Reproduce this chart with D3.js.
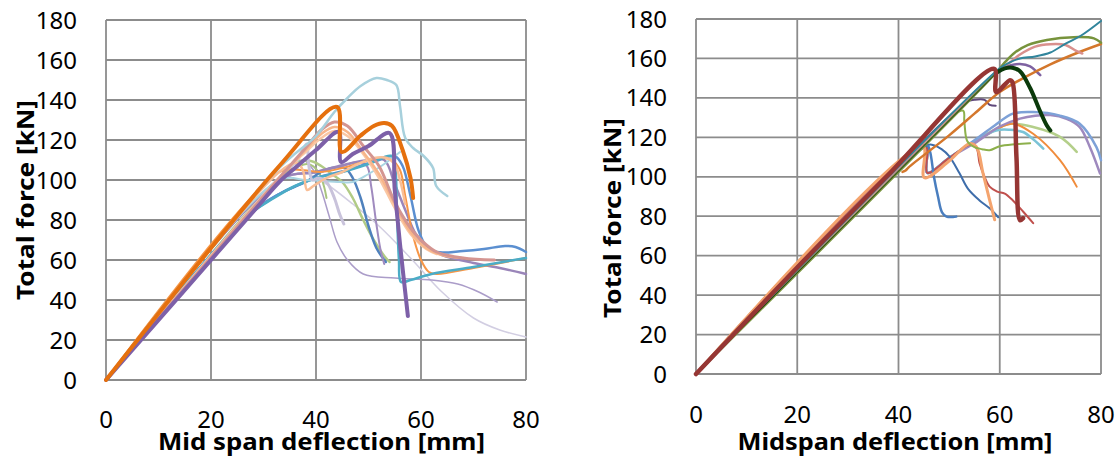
<!DOCTYPE html>
<html>
<head>
<meta charset="utf-8">
<script src="https://cdn.jsdelivr.net/npm/d3@7"></script>
<style>
  html, body { margin: 0; padding: 0; background: #fff; }
  svg { display: block; }
</style>
</head>
<body>
<svg id="chart" width="1120" height="459"></svg>
<script>
// ---------- axis ticks ----------
const xTicks = [0, 20, 40, 60, 80];
const yTicks = [0, 20, 40, 60, 80, 100, 120, 140, 160, 180];

// ---------- left panel: load vs. mid span deflection [mm, kN] ----------
const leftLightLavender = [[0,0],[33,101],[35.5,106],[38,104],[42,98],[47,88],[52,77],[58,61],[64,44],[70,31],[75,25],[80,21.5]];
const leftLilacThin = [[0,0],[33,101],[36,108],[37.5,110],[39.5,105],[41,95],[42.5,82],[44,69],[46,60],[49,53],[55,51],[62,50],[67,48],[71,44],[74.5,39]];
const leftLilacGrey = [[0,0],[34,104],[36.5,110],[38.2,118],[38.6,108],[39.3,100],[40.5,101],[42,99],[43.5,91],[44.5,83],[45.3,78]];
const leftGreenShort = [[0,0],[33,101],[36,106],[38.5,108],[40.5,104],[41.5,97],[42,91]];
const leftGreen = [[0,0],[27,82],[31,93],[34,104],[36,108.5],[39,109.5],[41,107],[43,103],[45,99],[47,91],[49,80],[51,70],[53,62],[54,59]];
const leftBlueDark = [[0,0],[27,82],[33,93],[38,99],[41,104],[43,106],[45.5,106],[47,101],[48.5,91],[50,77],[51.5,66],[53.3,59]];
const leftBlue = [[0,0],[27,82],[33,93],[40,101],[46,105],[52,110],[55,112],[56.5,107],[58,92],[59.5,75],[61,67],[63,64],[68,64.5],[72,65.5],[76,67],[78,66.5],[80,64]];
const leftAqua = [[0,0],[27,82],[32,91],[36,97],[40,101],[45,104],[50,108],[54.3,112],[55,108],[55.4,85],[55.8,60],[56.2,49],[58,50],[62,53],[70,56.5],[80,61]];
const leftOrange = [[0,0],[33,104],[37,105],[41,104],[45,106],[49,109],[52,111],[54.5,110],[56,105],[57,92],[58.5,72],[60,60],[61.5,54],[63,53],[70,56],[80,61]];
const leftPurpleMed = [[0,0],[33,100],[40,104],[46,108],[50,110],[53,110],[55,98],[57,85],[59,73],[61,67],[64,62.5],[70,58.5],[75,56],[80,53]];
const leftPurpleShort = [[0,0],[33,100],[40,104],[45,107],[48,109],[49.7,107],[50.5,97],[51.5,78],[52.3,65],[53,58]];
const leftLightBlueLow = [[0,0],[33,100],[38,100],[41,99.5],[44.5,99],[47,99],[50,103],[53,108],[56,114]];
const leftPeachV = [[0,0],[33,104],[36.5,108.5],[37.6,104],[38.3,95],[39.5,97],[42,101],[45,104],[48,108],[51,111],[53.5,111],[55,108],[56,100],[57,88]];
const leftPeachLight = [[0,0],[34,104],[38,114],[41,121],[43.5,124.5],[46,122],[49,113],[52,101],[55,86],[58,73],[61,65.5],[63,63]];
const leftPeach = [[0,0],[34,104],[38,115],[41,123],[43.5,126.5],[46,124],[49,114],[52,103],[55,88],[58,74],[61,66],[64,62.5],[68,61]];
const leftRosy = [[0,0],[34,104],[38,116],[41,125],[43.5,129],[46,127],[49,117],[52,107],[55,89],[58,76],[60,70],[63,64],[68,61],[74,60]];
const leftLightBlueTop = [[0,0],[33,106],[40,122],[43.5,134],[46,141],[48.5,147],[51.5,151],[53.5,150],[55.3,147.5],[56,137],[57,121],[58.5,116],[60.5,112],[62.3,106],[62.9,97],[65,92]];
const leftPurpleThick = [[0,0],[28,84],[33,99],[36,106],[40,115],[44.3,124],[44.8,109],[47,113],[50,117],[54,123.5],[55,95],[56,68],[57.5,32]];
const leftOrangeThick = [[0,0],[33,107],[44,136.5],[44.9,114],[48.4,122],[51,127],[53,128.5],[54.5,127],[56.5,115],[58,101],[58.5,91]];

// ---------- right panel: load vs. midspan deflection [mm, kN] ----------
const vStart = [[0,0],[45.3,116],[45.7,102],[50,109.5]];
const rightLightGreen = vStart.concat([[55,118],[58,122.5],[62,126.9],[66.6,125.2],[71.9,120.2],[75.2,112.6]]);
const rightOrange = vStart.concat([[55,118],[58,122],[60.5,125.5],[62.6,126.9],[66.6,121.8],[71.9,108.4],[75.2,95]]);
const rightAqua = vStart.concat([[55,118],[59.3,123.5],[62,123.8],[64.6,122.7],[66.6,119],[68.6,114.3]]);
const rightBlueLight = vStart.concat([[55,118.5],[59,126],[62.6,132],[66.6,132.8],[71.9,131],[75.8,126.9],[79.1,115],[80,108.4]]);
const rightLilac = vStart.concat([[55,117],[60,125.5],[64,129.5],[67,131],[70,131.3],[73.2,129.4],[75.8,125.2],[77.8,115.1],[79.8,101.7]]);
const rightRed = vStart.concat([[54.5,116.5],[55.5,114],[56,107],[57,100],[58,95],[59.5,92.5],[61,91.5],[62.6,88],[64.6,82.4],[66.6,76.5]]);
const rightBlue = [[0,0],[45.7,116],[47,116],[48.5,114],[50,110.5],[52,102],[53.7,94],[56,88],[58,84],[59.7,79.5]];
const rightBlueMid = [[0,0],[45.6,116],[46.2,113],[47,100],[47.8,90],[48.6,82],[49.5,79.8],[51.4,79.8]];
const rightPeachThick = [[0,0],[44.8,115.5],[45.1,99.5],[50,108],[54,116.8],[55.4,115.1],[56.7,101.7],[58,88.2],[59,78.2]];
const rightGreen = [[0,0],[52.7,133.6],[53,128],[53.6,118],[55,115],[56.5,114],[58,113.5],[60,115.5],[63,116.5],[66,117]];
const rightPurpleDark = [[0,0],[53.5,138],[55,139],[57,139],[58,136.5],[59.2,136]];
const rightPurple = [[0,0],[60.5,155],[62,156.5],[64,157.2],[66,156],[67.4,153],[68,151.5]];
const rightOrangeDark = [[40.8,102.5],[41.4,103.2],[42,104.8],[50,121],[55,132],[60,143],[65,150.5],[70,157],[75,162.5],[80,167.3]];
const rightRosy = [[0,0],[59.5,153.5],[62,158],[64,162],[67,166],[70,167.2],[73,166.8],[75,164],[76.3,162.5]];
const rightOlive = [[0,0],[59,152],[61,158],[63,163],[65.5,166.8],[69.3,169.4],[74.6,170.8],[78.6,170.2],[80,168]];
const rightTeal = [[0,0],[60,155],[62,158],[64,160],[67,161],[70,163],[73,167.5],[76,171.5],[80,179]];
const rightDarkGreenRise = [[0,0],[59.5,153]];
const rightDarkGreenFall = [[59.5,153],[61,155],[62.5,155.3],[64,153.5],[66,145],[68,133],[69.3,126],[70,123.5]];
const rightRedThick = [[0,0],[20,54],[37.6,100],[58.9,154.7],[59.3,143],[62,149],[62.5,148],[63.3,110],[64,78],[64.6,79]];

// ---------- drawing styles (bottom to top) ----------
const leftSeries = [
  { data: leftLightLavender, color: "#d2cee2", width: 1.5 },
  { data: leftLilacThin,     color: "#ab9dc9", width: 1.5 },
  { data: leftGreenShort,    color: "#a9c47f", width: 2 },
  { data: leftGreen,         color: "#b1cb85", width: 2.5 },
  { data: leftBlueDark,      color: "#4f81bd", width: 2.5 },
  { data: leftPurpleShort,   color: "#a08bbf", width: 2 },
  { data: leftPurpleMed,     color: "#9a85b9", width: 2.5 },
  { data: leftBlue,          color: "#5b8fd0", width: 2.5 },
  { data: leftOrange,        color: "#f79646", width: 2 },
  { data: leftAqua,          color: "#4bacc6", width: 2.5 },
  { data: leftLightBlueLow,  color: "#a9d5e2", width: 2 },
  { data: leftLilacGrey,     color: "#c9c3db", width: 3 },
  { data: leftPeachV,        color: "#f9be96", width: 2.5 },
  { data: leftPeachLight,    color: "#fac7a4", width: 2.5 },
  { data: leftPeach,         color: "#f7b58a", width: 2.5 },
  { data: leftRosy,          color: "#d49591", width: 3 },
  { data: leftLightBlueTop,  color: "#a7d0dc", width: 2.5 },
  { data: leftPurpleThick,   color: "#7d60a8", width: 4 },
  { data: leftOrangeThick,   color: "#e5700e", width: 4 }
];

const rightSeries = [
  { data: rightLightGreen,   color: "#b4cf8a", width: 2.5 },
  { data: rightOrange,       color: "#f08c3c", width: 2 },
  { data: rightAqua,         color: "#7bc3d6", width: 2.5 },
  { data: rightLilac,        color: "#9e89be", width: 2.5 },
  { data: rightBlueLight,    color: "#7da1d7", width: 2.5 },
  { data: rightRed,          color: "#c0504d", width: 2 },
  { data: rightBlue,         color: "#3e6daa", width: 2 },
  { data: rightBlueMid,      color: "#4a7ebf", width: 2.5 },
  { data: rightPeachThick,   color: "#f4a46e", width: 3 },
  { data: rightGreen,        color: "#8db04c", width: 2 },
  { data: rightPurpleDark,   color: "#60497b", width: 2 },
  { data: rightPurple,       color: "#7e62a1", width: 2.5 },
  { data: rightOrangeDark,   color: "#d4772c", width: 2.5 },
  { data: rightRosy,         color: "#d9908d", width: 2.5 },
  { data: rightOlive,        color: "#77933c", width: 2.5 },
  { data: rightTeal,         color: "#31859c", width: 2 },
  { data: rightDarkGreenRise,color: "#1f3a12", width: 1 },
  { data: rightDarkGreenFall,color: "#0b3a0b", width: 4 },
  { data: rightRedThick,     color: "#963634", width: 4.5 }
];

const svg = d3.select("#chart");
const FONT = "'Noto Sans', 'Open Sans', sans-serif";

function drawPanel(p) {
  const x = d3.scaleLinear().domain([0, 80]).range([p.left, p.right]);
  const y = d3.scaleLinear().domain([0, 180]).range([p.bottom, p.top]);
  const g = svg.append("g");

  // grid
  g.append("g").selectAll("line").data(yTicks).join("line")
    .attr("x1", p.left).attr("x2", p.right)
    .attr("y1", d => y(d)).attr("y2", d => y(d))
    .attr("stroke", "#8c8c8c").attr("stroke-width", 1.8);
  g.append("g").selectAll("line").data(xTicks).join("line")
    .attr("y1", p.top).attr("y2", p.bottom)
    .attr("x1", d => x(d)).attr("x2", d => x(d))
    .attr("stroke", "#8c8c8c").attr("stroke-width", 1.8);

  // curves
  const line = d3.line().x(d => x(d[0])).y(d => y(d[1])).curve(d3.curveCatmullRom.alpha(0.5));
  g.append("g").selectAll("path").data(p.series).join("path")
    .attr("d", s => line(s.data))
    .attr("fill", "none")
    .attr("stroke", s => s.color)
    .attr("stroke-width", s => s.width)
    .attr("stroke-linejoin", "round")
    .attr("stroke-linecap", "round");

  // tick labels
  g.append("g").selectAll("text").data(yTicks).join("text")
    .attr("x", p.left - 29).attr("y", d => y(d) + 8.5)
    .attr("text-anchor", "end")
    .attr("font-family", FONT).attr("font-size", 24).attr("fill", "#000")
    .text(d => d);
  g.append("g").selectAll("text").data(xTicks).join("text")
    .attr("x", d => x(d)).attr("y", p.xTickY)
    .attr("text-anchor", "middle")
    .attr("font-family", FONT).attr("font-size", 24).attr("fill", "#000")
    .text(d => d);

  // axis titles
  g.append("text")
    .attr("x", p.xTitleX).attr("y", 450)
    .attr("text-anchor", "middle")
    .attr("font-family", FONT).attr("font-weight", "bold").attr("font-size", 23)
    .attr("textLength", p.xTitleLen).attr("lengthAdjust", "spacingAndGlyphs")
    .text(p.xTitle);
  g.append("text")
    .attr("transform", `translate(${p.yTitleX},${p.yTitleY}) rotate(-90)`)
    .attr("text-anchor", "middle")
    .attr("font-family", FONT).attr("font-weight", "bold").attr("font-size", 23)
    .attr("textLength", p.yTitleLen).attr("lengthAdjust", "spacingAndGlyphs")
    .text("Total force  [kN]");
}

drawPanel({
  left: 106, right: 526, top: 20, bottom: 380, xTickY: 428,
  series: leftSeries,
  xTitle: "Mid span deflection [mm]", xTitleX: 321.5, xTitleLen: 327,
  yTitleX: 34, yTitleY: 200, yTitleLen: 200
});
drawPanel({
  left: 696, right: 1101, top: 19, bottom: 374, xTickY: 423,
  series: rightSeries,
  xTitle: "Midspan deflection [mm]", xTitleX: 895, xTitleLen: 315,
  yTitleX: 621, yTitleY: 218, yTitleLen: 200
});
</script>
</body>
</html>
